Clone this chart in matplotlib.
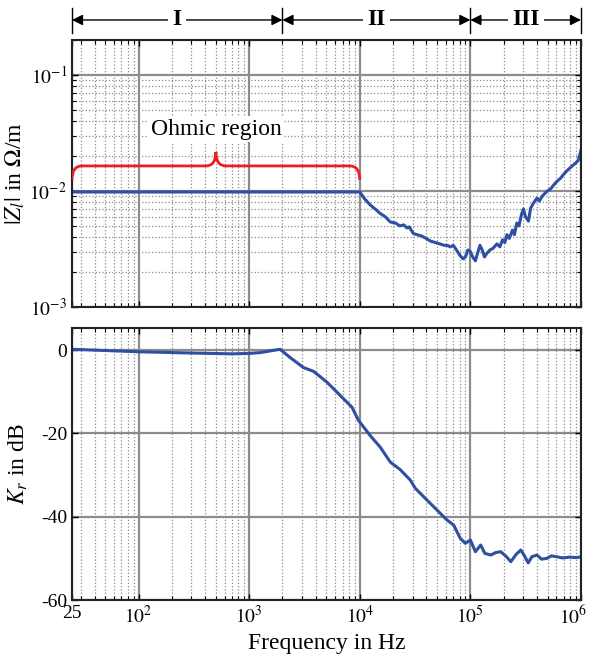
import numpy as np
import matplotlib
matplotlib.use("Agg")
import matplotlib.pyplot as plt
import matplotlib.transforms as mtransforms
from matplotlib.path import Path
from matplotlib.patches import PathPatch
from matplotlib.ticker import LogLocator, FixedLocator, NullFormatter

plt.rcParams['font.family'] = ['Liberation Serif', 'DejaVu Serif']
plt.rcParams['mathtext.fontset'] = 'stix'

# |Z_l| in Ohm/m
f_z = [25, 1e4, 1.1e4, 1.24e4, 1.4e4, 1.53e4, 1.7e4, 1.89e4, 2.1e4, 2.3e4, 2.5e4, 2.67e4,
       2.8e4, 3.05e4, 3.3e4, 3.6e4, 4.0e4, 4.35e4, 4.8e4, 5.3e4, 5.8e4, 6.2e4,
       6.6e4, 7.0e4, 7.5e4, 8.0e4, 8.6e4, 9.0e4, 9.5e4, 1.0e5, 1.05e5, 1.11e5,
       1.16e5, 1.22e5, 1.28e5, 1.34e5, 1.41e5, 1.5e5, 1.6e5, 1.74e5, 1.85e5, 1.95e5,
       2.05e5, 2.14e5, 2.25e5, 2.4e5, 2.5e5, 2.63e5, 2.75e5, 2.9e5, 3.02e5, 3.15e5,
       3.35e5, 3.5e5, 3.7e5, 4.0e5, 4.2e5, 4.5e5, 4.9e5, 5.3e5, 5.6e5, 6.0e5,
       6.5e5, 7.0e5, 7.5e5, 7.95e5, 8.5e5, 9.0e5, 9.5e5, 1e6]
z = [0.0098, 0.0098, 0.0086, 0.0076, 0.0069, 0.0064, 0.0060, 0.0054, 0.0053, 0.0050, 0.0051, 0.0048,
     0.0049, 0.0043, 0.0042, 0.0041, 0.0039, 0.0037, 0.0036, 0.0035, 0.0034, 0.0034,
     0.0033, 0.0034, 0.0031, 0.0028, 0.0026, 0.0027, 0.0031, 0.0030, 0.0027, 0.0025,
     0.0029, 0.0034, 0.0031, 0.0027, 0.0029, 0.0031, 0.0032, 0.0035, 0.0033, 0.0038,
     0.0036, 0.0042, 0.0039, 0.0046, 0.0042, 0.0053, 0.0050, 0.0063, 0.0070, 0.0060,
     0.0055, 0.0071, 0.0078, 0.0087, 0.0082, 0.0091, 0.0099, 0.0104, 0.0111, 0.0120,
     0.0128, 0.0140, 0.0150, 0.0158, 0.0167, 0.0175, 0.0185, 0.0225]

# K_r in dB
f_k = [25, 100, 300, 700, 1000, 1260, 1900, 2350, 3100, 3820,
       5050, 6660, 8490, 9750, 12400, 15300, 18900, 23200, 28600, 31800,
       40500, 49900, 61500, 70600, 81000, 90000, 1e5, 1.11e5, 1.24e5, 1.35e5,
       1.53e5, 1.7e5, 1.88e5, 2.1e5, 2.32e5, 2.6e5, 2.86e5, 3.1e5, 3.33e5, 3.6e5,
       4.0e5, 4.4e5, 4.9e5, 5.4e5, 6.0e5, 6.8e5, 7.95e5, 8.8e5, 1e6]
k = [0.2, -0.4, -0.7, -0.9, -0.8, -0.6, 0.2, -1.8, -4.2, -5.1,
     -7.7, -10.9, -13.7, -16.9, -20.5, -23.3, -26.9, -28.7, -31.2, -33.2,
     -36.0, -38.4, -40.8, -42.0, -45.2, -46.4, -45.6, -48.4, -46.8, -48.8,
     -49.2, -48.6, -48.4, -49.5, -50.8, -49.0, -48.0, -49.5, -51.1, -49.6,
     -49.2, -50.2, -50.0, -49.4, -49.6, -49.9, -49.7, -49.8, -49.7]

region_edges = [25, 2000, 1e5, 1e6]
region_labels = ['I', 'II', 'III']
ohmic_range = [25, 1e4]
xtick_vals = [25, 1e2, 1e3, 1e4, 1e5, 1e6]
xtick_labels = ['25', r'$10^2$', r'$10^3$', r'$10^4$', r'$10^5$', r'$10^6$']

blue = '#2d50a0'
red = '#ee1c25'
gcol = '#8c8c8c'

fig = plt.figure(figsize=(5.92, 6.6), dpi=100)
ax1 = fig.add_axes([0.1216, 0.5348, 0.8598, 0.4046])
ax2 = fig.add_axes([0.1216, 0.0909, 0.8598, 0.4121])

for ax in (ax1, ax2):
    ax.set_xscale('log')
    ax.set_xlim(25, 1e6)
    ax.xaxis.set_major_locator(FixedLocator(xtick_vals))
    ax.xaxis.set_minor_locator(LogLocator(base=10, subs=np.arange(2, 10), numticks=20))
    ax.xaxis.set_minor_formatter(NullFormatter())
    ax.tick_params(which='both', direction='in', top=True, right=True, labelsize=14)
    ax.tick_params(which='major', length=4, width=1)
    ax.tick_params(which='minor', length=3, width=0.8)
    ax.grid(which='minor', axis='x', linestyle=':', color=gcol, lw=0.9)
    ax.grid(which='major', axis='both', linestyle='-', color=gcol, lw=1.6)
    for s in ax.spines.values():
        s.set_linewidth(1.5)
        s.set_color('#222222')
    ax.set_axisbelow(True)

# top panel
ax1.set_yscale('log')
ax1.set_ylim(1e-3, 0.2)
ax1.set_yticks([1e-3, 1e-2, 1e-1])
ax1.set_yticklabels([r'$10^{-3}$', r'$10^{-2}$', r'$10^{-1}$'])
ax1.yaxis.set_minor_locator(LogLocator(base=10, subs=np.arange(2, 10), numticks=20))
ax1.yaxis.set_minor_formatter(NullFormatter())
ax1.grid(which='minor', axis='y', linestyle=':', color=gcol, lw=0.9)
ax1.set_xticklabels([])
ax1.plot(f_z, z, color=blue, lw=2.2)
ax1.set_ylabel(r'$|Z_l|$ in $\Omega$/m', fontsize=17, labelpad=2)

# ohmic region brace
lx0, lx1 = np.log10(ohmic_range[0]), np.log10(ohmic_range[1])
lxp = (lx0 + lx1) / 2
ly_end, ly_mid, ly_pk = -1.905, -1.784, -1.664
dx = 0.09
pts = [(lx0, ly_end), (lx0, ly_mid), (lx0 + dx, ly_mid),
       (lxp - dx, ly_mid), (lxp, ly_mid), (lxp, ly_pk),
       (lxp, ly_mid), (lxp + dx, ly_mid),
       (lx1 - dx, ly_mid), (lx1, ly_mid), (lx1, ly_end)]
codes = [Path.MOVETO, Path.CURVE3, Path.CURVE3,
         Path.LINETO, Path.CURVE3, Path.CURVE3,
         Path.CURVE3, Path.CURVE3,
         Path.LINETO, Path.CURVE3, Path.CURVE3]
verts = [(10 ** a, 10 ** b) for a, b in pts]
ax1.add_patch(PathPatch(Path(verts, codes), facecolor='none', edgecolor=red, lw=2, zorder=4))
ax1.text(10 ** lxp, 10 ** -1.466, 'Ohmic region', ha='center', va='center', fontsize=17,
         bbox=dict(facecolor='white', edgecolor='none', pad=2), zorder=5)

# region header
tr = ax1.get_xaxis_transform()
for e in region_edges:
    ax1.plot([e, e], [1.026, 1.12], transform=tr, color='black', lw=1, clip_on=False)
for (a, b), lab in zip(zip(region_edges[:-1], region_edges[1:]), region_labels):
    ax1.annotate('', xy=(a, 1.075), xytext=(b, 1.075), xycoords=tr, textcoords=tr,
                 arrowprops=dict(arrowstyle='<|-|>', color='black', lw=1,
                                 mutation_scale=16, shrinkA=0, shrinkB=0))
    xm = 10 ** ((np.log10(a) + np.log10(b)) / 2)
    ax1.text(xm, 1.075, lab, transform=tr, ha='center', va='center', fontsize=17,
             fontweight='bold', bbox=dict(facecolor='white', edgecolor='none', pad=3))

# bottom panel
ax2.set_ylim(-60, 5.3)
ax2.set_yticks([0, -20, -40, -60])
ax2.set_yticklabels(['0', '-20', '-40', '-60'])
ax2.set_xticklabels(xtick_labels)
last = ax2.get_xticklabels()[-1]
last.set_transform(last.get_transform() + mtransforms.ScaledTranslation(-6 / 72, 0, fig.dpi_scale_trans))
ax2.set_ylabel(r'$K_r$ in dB', fontsize=17, labelpad=8)
ax2.plot(f_k, k, color=blue, lw=2.2)
ax2.set_xlabel('Frequency in Hz', fontsize=17)

fig.savefig('out.png', dpi=100)
